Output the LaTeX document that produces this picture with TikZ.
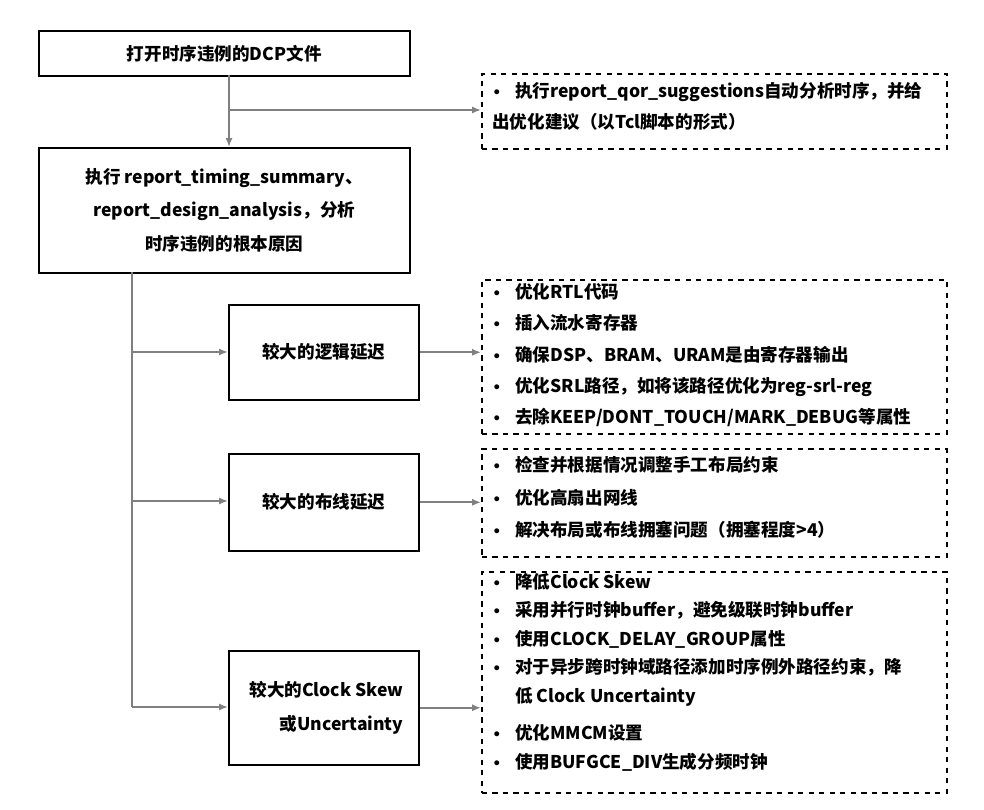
\documentclass[tikz,border=0pt]{standalone}
\usepackage{fontspec}
\setmainfont{Noto Sans CJK SC}
\newfontfamily\bfont{DejaVu Sans}
\newcommand{\bul}{\makebox[13pt][l]{\bfont\fontsize{8}{8}\selectfont •}}
\usetikzlibrary{arrows.meta}
\begin{document}
\begin{tikzpicture}[x=0.02cm,y=-0.02cm,
  solid box/.style={draw,line width=0.9pt,inner sep=0pt},
  dash box/.style={draw,dashed,line width=0.9pt,inner sep=0pt},
  conn/.style={draw=gray,line width=1pt,-{Latex[length=5pt,width=4pt]}},
  line/.style={draw=gray,line width=1pt},
  txt/.style={font=\bfseries\fontsize{10}{17.8}\selectfont,align=left,anchor=north west,inner sep=0pt},
  ctxt/.style={font=\bfseries\fontsize{10}{19}\selectfont,align=center}]
\useasboundingbox (0,0) rectangle (984,810);
% solid boxes
\node[solid box,minimum width=371*0.02cm,minimum height=45*0.02cm,anchor=north west] (b1) at (38,30) {};
\node[ctxt] at (b1.center) {打开时序违例的DCP文件};
\node[solid box,minimum width=371*0.02cm,minimum height=125*0.02cm,anchor=north west] (b2) at (38,147) {};
\node[ctxt] at (b2.center) {执行 report\_timing\_summary、\\report\_design\_analysis，分析\\时序违例的根本原因};
\node[solid box,minimum width=190*0.02cm,minimum height=95*0.02cm,anchor=north west] (b3) at (228,304) {};
\node[ctxt] at (b3.center) {较大的逻辑延迟};
\node[solid box,minimum width=190*0.02cm,minimum height=97*0.02cm,anchor=north west] (b4) at (228,453) {};
\node[ctxt] at (b4.center) {较大的布线延迟};
\node[solid box,minimum width=190*0.02cm,minimum height=114*0.02cm,anchor=north west] (b5) at (228,650) {};
\node[ctxt,align=right,anchor=east] at ([xshift=-10*0.02cm]b5.east) {较大的Clock Skew\\或Uncertainty};
% dashed boxes
\node[dash box,minimum width=465*0.02cm,minimum height=75*0.02cm,anchor=north west] (d1) at (481,73) {};
\node[txt] at (492,82) {\bul 执行report\_qor\_suggestions自动分析时序，并给\\出优化建议（以Tcl脚本的形式）};
\node[dash box,minimum width=465*0.02cm,minimum height=154*0.02cm,anchor=north west] (d2) at (481,279) {};
\node[txt] at (492,283) {\bul 优化RTL代码\\\bul 插入流水寄存器\\\bul 确保DSP、BRAM、URAM是由寄存器输出\\\bul 优化SRL路径，如将该路径优化为reg-srl-reg\\\bul 去除KEEP/DONT\_TOUCH/MARK\_DEBUG等属性};
\node[dash box,minimum width=465*0.02cm,minimum height=108*0.02cm,anchor=north west] (d3) at (481,448) {};
\node[txt,font=\bfseries\fontsize{10}{18.6}\selectfont] at (492,456) {\bul 检查并根据情况调整手工布局约束\\\bul 优化高扇出网线\\\bul 解决布局或布线拥塞问题（拥塞程度>4）};
\node[dash box,minimum width=465*0.02cm,minimum height=221*0.02cm,anchor=north west] (d4) at (481,571) {};
\node[txt,font=\bfseries\fontsize{10}{16.2}\selectfont] at (492,573) {\bul 降低Clock Skew\\\bul 采用并行时钟buffer，避免级联时钟buffer\\\bul 使用CLOCK\_DELAY\_GROUP属性\\\bul 对于异步跨时钟域路径添加时序例外路径约束，降\\\hspace*{13pt}低 Clock Uncertainty\\[5pt]\bul 优化MMCM设置\\\bul 使用BUFGCE\_DIV生成分频时钟};
% connectors
\coordinate (t1) at (229,75);
\coordinate (j1) at (229,110);
\draw[conn] (t1) -- (229,147);
\draw[conn] (j1) -- (j1 -| d1.west);
\coordinate (s) at (132,272);
\coordinate (e) at (132,707);
\draw[line] (s) -- (e);
\draw[conn] (132,352) -- (132,352 -| b3.west);
\draw[conn] (132,501) -- (132,501 -| b4.west);
\draw[conn] (e) -- (e -| b5.west);
\draw[conn] (b3.east) -- (b3.east -| d2.west);
\draw[conn] (b4.east) -- (b4.east -| d3.west);
\draw[conn] (b5.east) -- (b5.east -| d4.west);
\end{tikzpicture}
\end{document}
